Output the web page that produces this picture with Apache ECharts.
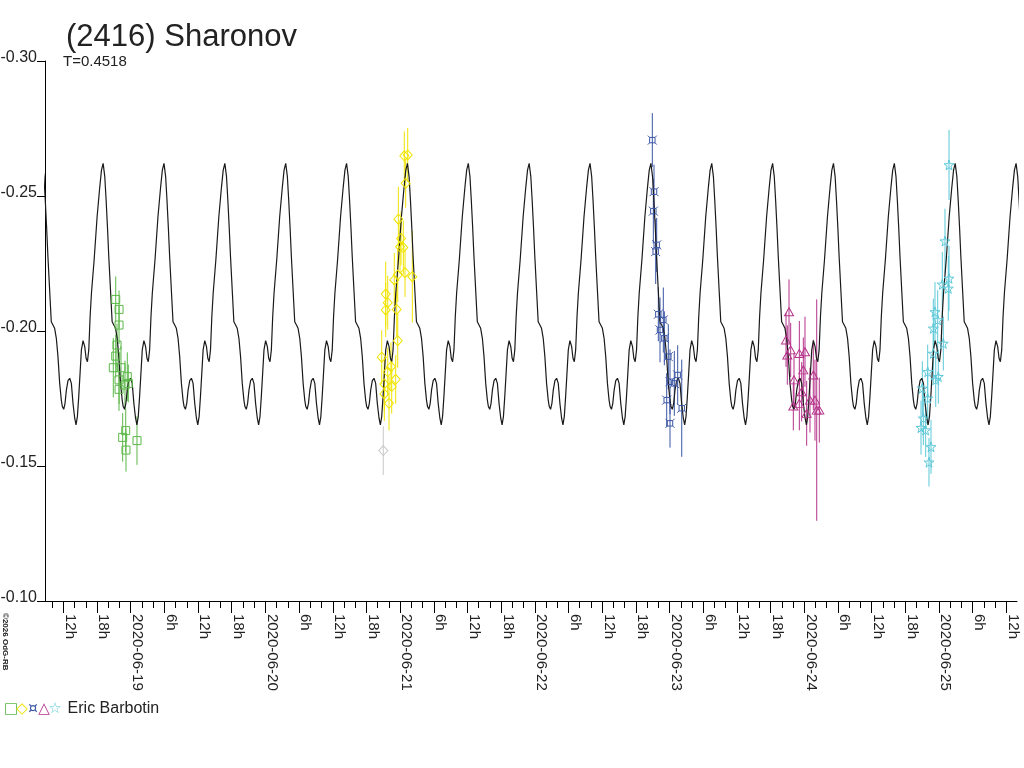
<!DOCTYPE html>
<html>
<head>
<meta charset="utf-8">
<title>(2416) Sharonov</title>
<script src="https://cdn.jsdelivr.net/npm/echarts@6/dist/echarts.min.js"></script>
<style>
html, body { margin: 0; padding: 0; background: #fff; }
#main { width: 1024px; height: 768px; }
</style>
</head>
<body>
<div id="main"></div>
<script>
// time axis: hours counted from 2020-06-19 00:00 UT
var xMin = -15.27, xMax = 157.9;
var tickHours = [-12, -6, 0, 6, 12, 18, 24, 30, 36, 42, 48, 54, 60, 66, 72, 78, 84, 90, 96,
                 102, 108, 114, 120, 126, 132, 138, 144, 150, 156];
var tickLabels = ['12h', '18h', '2020-06-19', '6h', '12h', '18h', '2020-06-20', '6h', '12h', '18h',
                  '2020-06-21', '6h', '12h', '18h', '2020-06-22', '6h', '12h', '18h', '2020-06-23',
                  '6h', '12h', '18h', '2020-06-24', '6h', '12h', '18h', '2020-06-25', '6h', '12h'];
var minorHours = [];
for (var t = -14; t <= 156; t += 2) minorHours.push(t);

// fitted model: one rotation profile (phase from maximum, relative magnitude)
var periodHours = 0.4518 * 24;
var peakEpoch = 5.93;
var profilePhase = [0, 0.027, 0.049, 0.071, 0.093, 0.121, 0.148, 0.176, 0.203, 0.231, 0.258, 0.286,
                    0.313, 0.330, 0.352, 0.374, 0.396, 0.423, 0.451, 0.478, 0.505, 0.533, 0.555, 0.577,
                    0.599, 0.621, 0.643, 0.670, 0.698, 0.720, 0.742, 0.764, 0.786, 0.808, 0.852, 0.901,
                    0.945, 0.973];
var profileMag = [-0.2621, -0.2572, -0.2485, -0.2386, -0.2275, -0.2152, -0.2034, -0.2022, -0.2010,
                  -0.1973, -0.1905, -0.1806, -0.1744, -0.1720, -0.1710, -0.1732, -0.1781, -0.1816,
                  -0.1825, -0.1806, -0.1732, -0.1677, -0.1652, -0.1683, -0.1757, -0.1843, -0.1930,
                  -0.1964, -0.1942, -0.1899, -0.1886, -0.1930, -0.2053, -0.2140, -0.2263, -0.2423,
                  -0.2534, -0.2596];

// observations: [hour, magnitude, error]
var greenPts = [[-2.67, -0.2117, 0.0085], [-2.08, -0.2080, 0.007], [-2.08, -0.2022, 0.007],
                [-2.44, -0.1948, 0.008], [-2.67, -0.1907, 0.008], [-3.10, -0.1864, 0.011],
                [-1.73, -0.1864, 0.008], [-2.08, -0.1819, 0.009], [-0.61, -0.1831, 0.009],
                [-2.08, -0.1784, 0.008], [-1.02, -0.1800, 0.009], [-0.43, -0.1806, 0.007],
                [-0.89, -0.1631, 0.008], [-1.43, -0.1606, 0.009], [-0.84, -0.1559, 0.008],
                [1.12, -0.1594, 0.009]];
var yellowPts = [[48.74, -0.2649, 0.009], [49.35, -0.2652, 0.010], [48.99, -0.2547, 0.009],
                 [47.68, -0.2414, 0.012], [48.16, -0.2343, 0.010], [47.98, -0.2312, 0.010],
                 [48.57, -0.2309, 0.010], [47.57, -0.2207, 0.010], [48.87, -0.2216, 0.009],
                 [50.17, -0.2201, 0.017], [46.96, -0.2189, 0.010], [45.43, -0.2137, 0.012],
                 [45.79, -0.2105, 0.010], [45.43, -0.2078, 0.010], [47.39, -0.2080, 0.010],
                 [47.57, -0.1964, 0.010], [44.72, -0.1903, 0.010], [46.37, -0.1868, 0.009],
                 [45.79, -0.1849, 0.009], [47.21, -0.1821, 0.009], [45.18, -0.1804, 0.010],
                 [46.50, -0.1794, 0.010], [45.18, -0.1767, 0.010], [46.02, -0.1732, 0.010]];
var grayPts = [[45.00, -0.1557, 0.009]];
var bluePts = [[92.93, -0.2707, 0.010], [93.23, -0.2516, 0.010], [93.11, -0.2444, 0.012],
               [93.71, -0.2319, 0.010], [93.53, -0.2294, 0.012], [94.00, -0.2062, 0.010],
               [94.89, -0.2041, 0.012], [94.30, -0.2004, 0.012], [95.07, -0.1973, 0.010],
               [95.78, -0.1905, 0.012], [96.08, -0.1812, 0.012], [96.85, -0.1806, 0.012],
               [97.45, -0.1837, 0.011], [95.49, -0.1744, 0.010], [98.17, -0.1714, 0.018],
               [96.08, -0.1658, 0.009]];
var magentaPts = [[117.28, -0.2071, 0.012], [116.75, -0.1967, 0.010], [117.58, -0.1930, 0.010],
                  [116.98, -0.1911, 0.011], [119.12, -0.1917, 0.012], [120.13, -0.1923, 0.013],
                  [119.83, -0.1856, 0.012], [118.17, -0.1819, 0.010], [121.61, -0.1837, 0.013],
                  [119.54, -0.1775, 0.011], [118.05, -0.1722, 0.009], [119.12, -0.1732, 0.010],
                  [121.02, -0.1744, 0.012], [122.22, -0.1707, 0.041], [120.43, -0.1695, 0.012],
                  [122.68, -0.1707, 0.012], [121.91, -0.1744, 0.015]];
var cyanPts = [[145.79, -0.2615, 0.013], [145.07, -0.2333, 0.012], [144.59, -0.2173, 0.012],
               [145.79, -0.2195, 0.012], [145.66, -0.2158, 0.012], [143.29, -0.2071, 0.011],
               [143.77, -0.2041, 0.011], [142.99, -0.2010, 0.011], [144.77, -0.1954, 0.010],
               [142.99, -0.1917, 0.010], [141.99, -0.1849, 0.010], [143.88, -0.1831, 0.010],
               [143.42, -0.1819, 0.010], [141.03, -0.1788, 0.010], [141.99, -0.1751, 0.010],
               [141.21, -0.1677, 0.010], [140.80, -0.1642, 0.010], [141.63, -0.1633, 0.010],
               [142.58, -0.1571, 0.010], [142.22, -0.1514, 0.009]];

var FONT = 'Liberation Sans, Arial, sans-serif';
var INK = '#222';

// repeat the rotation profile over the plotted time span
var curve = [];
for (var k = -3; k <= 17; k++) {
    for (var i = 0; i < profilePhase.length; i++) {
        var h = peakEpoch + (k + profilePhase[i]) * periodHours;
        if (h >= xMin - 2 && h <= xMax + 2) curve.push([h, profileMag[i]]);
    }
}

var starPath = 'path://M50,0 L61,35 L98,35 L68,57 L79,91 L50,70 L21,91 L32,57 L2,35 L39,35 Z';
var crossBox = 'path://M2,2 L8,2 L8,8 L2,8 Z M0,0 L2,2 M10,0 L8,2 M10,10 L8,8 M0,10 L2,8';

function errorBars(pts, color) {
    return {
        type: 'custom',
        data: pts,
        encode: { x: 0, y: 1 },
        clip: true,
        z: 2,
        silent: true,
        renderItem: function (params, api) {
            var x = api.value(0), m = api.value(1), e = api.value(2);
            var p1 = api.coord([x, m - e]);
            var p2 = api.coord([x, m + e]);
            return {
                type: 'line',
                shape: { x1: p1[0], y1: p1[1], x2: p2[0], y2: p2[1] },
                style: { stroke: color, lineWidth: 1 }
            };
        }
    };
}

function markers(pts, color, symbol, size) {
    return {
        type: 'scatter',
        data: pts.map(function (p) { return [p[0], p[1]]; }),
        symbol: symbol,
        symbolSize: size,
        z: 4,
        silent: true,
        itemStyle: { color: 'rgba(0,0,0,0)', borderColor: color, borderWidth: 1, opacity: 1 }
    };
}

var GREEN = '#5cb848', YELLOW = '#f0e400', GRAY = '#c8c8c8',
    BLUE = '#3a55a4', MAGENTA = '#b5338a', CYAN = '#5cc8d8';

var chart = echarts.init(document.getElementById('main'), null, { renderer: 'canvas' });

var symStyle = function (c) {
    return { fill: c, fontSize: 15, fontFamily: 'DejaVu Sans', width: 11, align: 'center' };
};

chart.setOption({
    animation: false,
    backgroundColor: '#fff',
    title: [{
        text: '(2416) Sharonov',
        left: 66, top: 22, padding: 0,
        textStyle: { fontFamily: FONT, fontSize: 31, fontWeight: 'normal', color: INK }
    }, {
        text: 'T=0.4518',
        left: 63, top: 54, padding: 0,
        textStyle: { fontFamily: FONT, fontSize: 15, fontWeight: 'normal', color: INK }
    }],
    grid: { left: 45, right: 7, top: 61, bottom: 167, outerBoundsMode: 'none' },
    xAxis: [{
        type: 'value',
        min: xMin, max: xMax,
        position: 'bottom',
        axisLine: { show: true, onZero: false, lineStyle: { color: '#000', width: 1 } },
        axisTick: { show: true, customValues: tickHours, length: 12, lineStyle: { color: '#000' } },
        axisLabel: {
            show: true,
            customValues: tickHours,
            rotate: -90,
            margin: 13,
            verticalAlign: 'bottom',
            lineHeight: 13,
            fontFamily: FONT, fontSize: 15, color: INK,
            formatter: function (v) {
                return tickLabels[Math.round((v - tickHours[0]) / 6)];
            }
        },
        splitLine: { show: false }
    }, {
        type: 'value',
        min: xMin, max: xMax,
        position: 'bottom',
        axisLine: { show: false, onZero: false },
        axisTick: { show: true, customValues: minorHours, length: 7, lineStyle: { color: '#000' } },
        axisLabel: { show: false },
        splitLine: { show: false }
    }],
    yAxis: {
        type: 'value',
        inverse: true,
        min: -0.30, max: -0.10, interval: 0.05,
        axisLine: { show: true, onZero: false, lineStyle: { color: '#000', width: 1 } },
        axisTick: { show: true, length: 8, lineStyle: { color: '#000' } },
        axisLabel: {
            margin: 8,
            fontFamily: FONT, fontSize: 16, color: INK,
            verticalAlign: 'bottom',
            lineHeight: 6,
            formatter: function (v) { return v.toFixed(2); }
        },
        splitLine: { show: false }
    },
    series: [
        errorBars(grayPts, GRAY),
        errorBars(greenPts, GREEN),
        errorBars(yellowPts, YELLOW),
        errorBars(bluePts, BLUE),
        errorBars(magentaPts, MAGENTA),
        errorBars(cyanPts, CYAN),
        {
            type: 'line',
            data: curve,
            showSymbol: false,
            clip: true,
            z: 3,
            silent: true,
            lineStyle: { color: '#1a1a1a', width: 1.2 }
        },
        markers(grayPts, GRAY, 'diamond', [9, 10]),
        markers(greenPts, GREEN, 'rect', 8),
        markers(yellowPts, YELLOW, 'diamond', [9, 10]),
        markers(bluePts, BLUE, crossBox, 9),
        markers(magentaPts, MAGENTA, 'triangle', [9, 8]),
        markers(cyanPts, CYAN, starPath, 10)
    ],
    graphic: [{
        type: 'text',
        left: 4, top: 701,
        style: {
            text: '{g|□}{y|◇}{b|¤}{m|△}{c|☆}{n|Eric Barbotin}',
            rich: {
                g: symStyle(GREEN),
                y: symStyle(YELLOW),
                b: symStyle(BLUE),
                m: symStyle(MAGENTA),
                c: symStyle(CYAN),
                n: { fill: INK, fontSize: 16, fontFamily: FONT, padding: [0, 0, 0, 7] }
            }
        }
    }, {
        type: 'text',
        x: 1, y: 613,
        rotation: -Math.PI / 2,
        style: {
            text: '©2026 OdG-RB',
            fill: INK,
            fontSize: 8,
            fontWeight: 'bold',
            fontFamily: FONT,
            verticalAlign: 'bottom',
            align: 'left'
        }
    }]
});
</script>
</body>
</html>
